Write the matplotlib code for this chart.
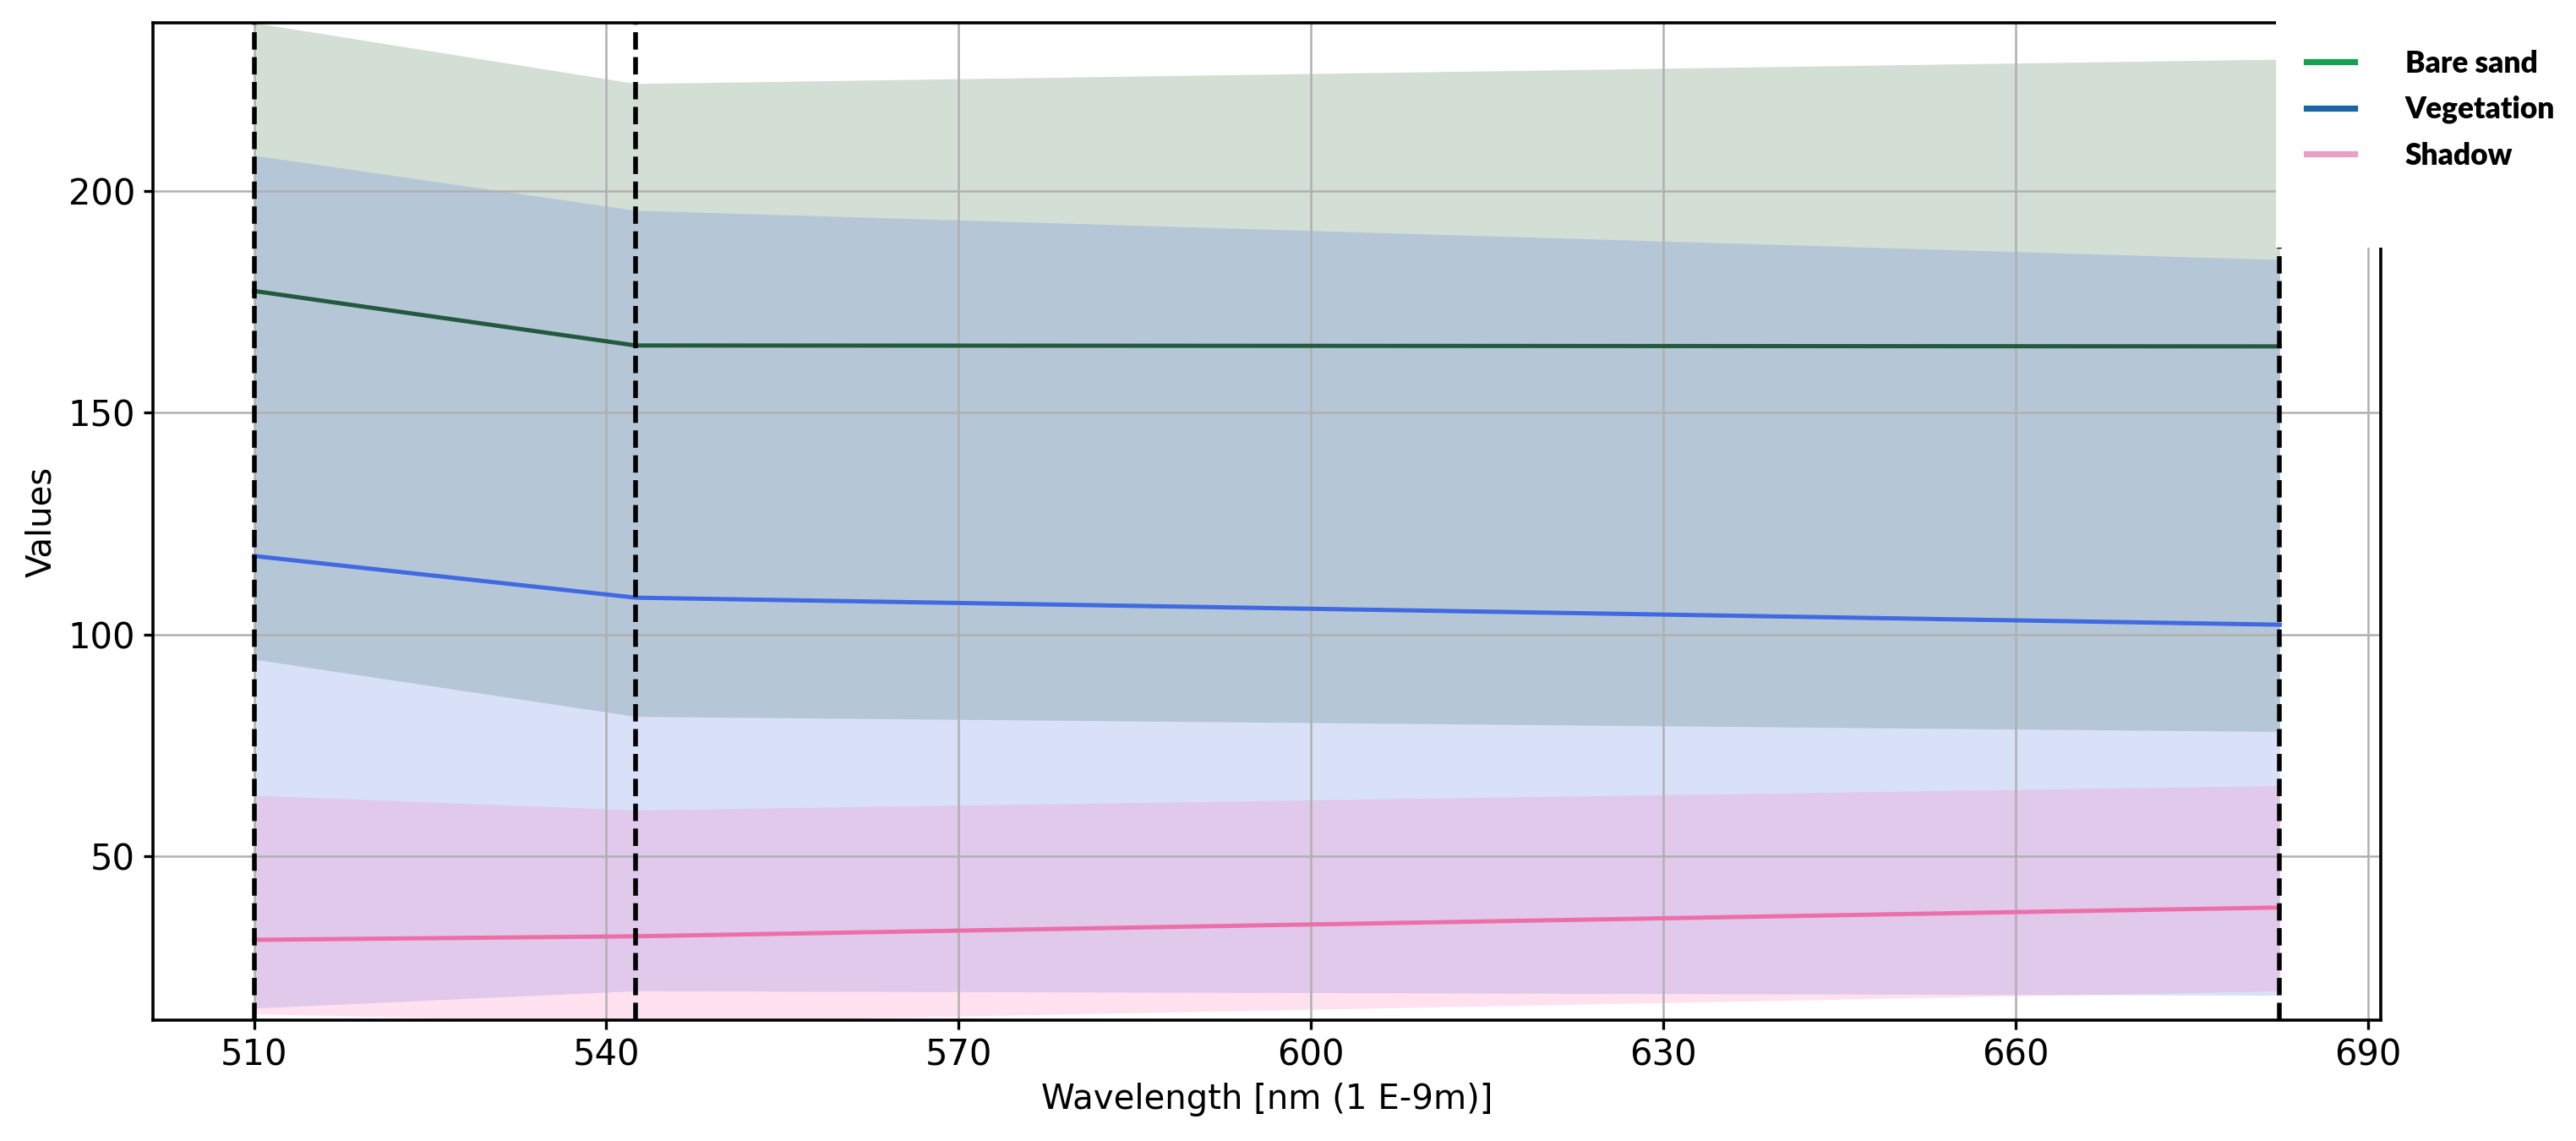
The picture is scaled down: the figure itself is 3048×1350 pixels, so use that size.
import numpy as np
import matplotlib
matplotlib.use('Agg')
from matplotlib import pyplot as plt
from matplotlib.lines import Line2D
from matplotlib.patches import Rectangle

# band centre wavelengths (nm)
wavelengths = [510, 542.5, 682.5]

# mean values and envelope per class
sand_mean = [177.5, 165.2, 165.0]
sand_upper = [238.0, 224.3, 229.8]
sand_lower = [94.4, 81.5, 78.1]

veg_mean = [117.7, 108.3, 102.2]
veg_upper = [208.1, 195.7, 184.6]
veg_lower = [15.7, 19.6, 18.6]

shadow_mean = [31.1, 31.9, 38.4]
shadow_upper = [63.7, 60.4, 65.9]
shadow_lower = [14.4, 12.5, 19.6]

legend_labels = ['Bare sand', 'Vegetation', 'Shadow']
legend_colors = ['#16a152', '#1c64a4', '#e8a0c8']

fig = plt.figure(figsize=(15.24, 6.75), dpi=200)
ax = fig.add_axes([0.0594, 0.106, 0.8648, 0.874])

ax.plot(wavelengths, sand_mean, color='#235a3e', linewidth=1.8)
ax.fill_between(wavelengths, sand_lower, sand_upper, color='#235f2d', alpha=0.2, linewidth=0)
ax.plot(wavelengths, veg_mean, color='royalblue', linewidth=1.8)
ax.fill_between(wavelengths, veg_lower, veg_upper, color='royalblue', alpha=0.2, linewidth=0)
ax.plot(wavelengths, shadow_mean, color='#ec6fa8', linewidth=1.8)
ax.fill_between(wavelengths, shadow_lower, shadow_upper, color='hotpink', alpha=0.2, linewidth=0)

for w in wavelengths:
    ax.axvline(w, color='black', linestyle='--', linewidth=2.0, zorder=3)

ax.set_xticks([510, 540, 570, 600, 630, 660, 690])
ax.set_yticks([50, 100, 150, 200])
ax.set_xlim(501.4, 691.1)
ax.set_ylim(13, 238)
ax.grid(True, color='#b0b0b0', linewidth=0.9)
ax.tick_params(labelsize=15, length=4, width=1.2)
for s in ax.spines.values():
    s.set_linewidth(1.3)
ax.set_xlabel('Wavelength [nm (1 E-9m)]', fontsize=14.5)
ax.set_ylabel('Values', fontsize=14.5)

# white box behind the legend, covering the top right corner
fig.patches.append(Rectangle((0.8835, 0.783), 0.1165, 0.217, transform=fig.transFigure,
                             facecolor='white', edgecolor='none', zorder=5))

handles = [Line2D([], [], color=c, linewidth=2.6) for c in legend_colors]
leg = fig.legend(handles, legend_labels, loc='upper left', bbox_to_anchor=(0.885, 0.98),
                 frameon=False, handlelength=1.6, handletextpad=1.7, labelspacing=0.6,
                 prop={'family': 'Lato', 'weight': 'heavy', 'size': 12.7})
leg.set_zorder(6)

fig.savefig('out.png', dpi=200)
